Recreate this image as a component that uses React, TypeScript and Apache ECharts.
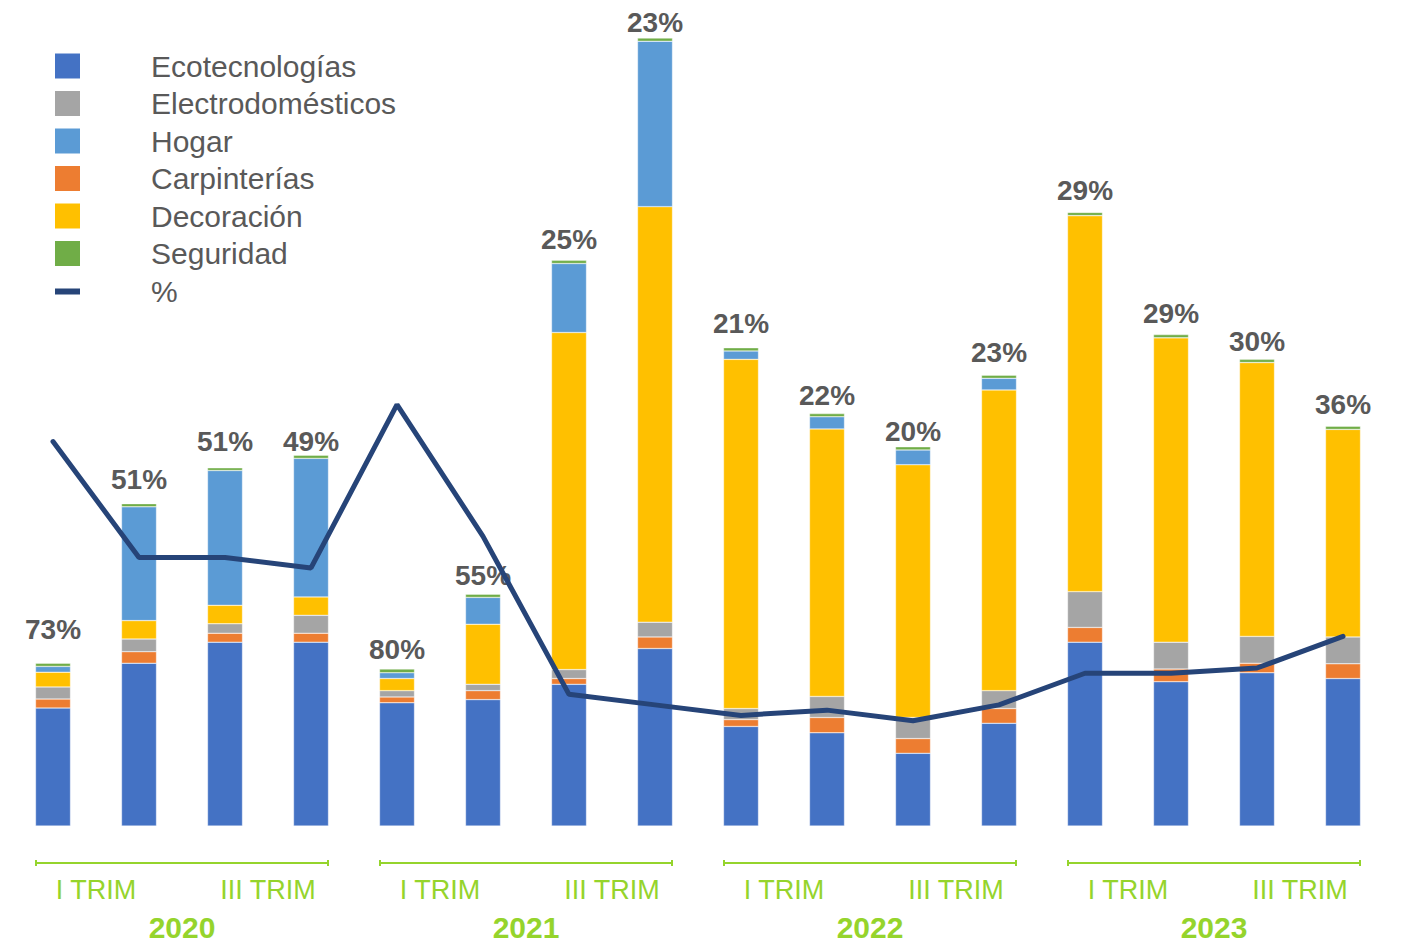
import React, { useEffect, useRef } from 'react';
import * as echarts from 'echarts';

const quarters = [
  '2020-I', '2020-II', '2020-III', '2020-IV',
  '2021-I', '2021-II', '2021-III', '2021-IV',
  '2022-I', '2022-II', '2022-III', '2022-IV',
  '2023-I', '2023-II', '2023-III', '2023-IV',
];
const quarterLabels = ['I TRIM', 'III TRIM', 'I TRIM', 'III TRIM', 'I TRIM', 'III TRIM', 'I TRIM', 'III TRIM'];
const years = ['2020', '2021', '2022', '2023'];

const ecotecnologias = [224, 309, 349, 349, 234, 240, 269, 337, 189, 177, 138, 195, 349, 274, 291, 280];
const carpinterias = [17, 22, 17, 17, 11, 17, 11, 22, 13, 29, 28, 28, 28, 24, 18, 28];
const electrodomesticos = [23, 24, 18, 34, 12, 12, 17, 28, 21, 40, 40, 34, 68, 51, 51, 51];
const decoracion = [28, 35, 35, 35, 23, 114, 640, 789, 663, 508, 480, 571, 714, 578, 520, 394];
const hogar = [11, 216, 256, 263, 11, 51, 131, 314, 16, 23, 28, 22, 0, 0, 0, 0];
const seguridad = [6, 6, 5, 6, 7, 6, 6, 6, 6, 6, 6, 6, 6, 6, 6, 6];
const porcentaje = [73, 51, 51, 49, 80, 55, 25, 23, 21, 22, 20, 23, 29, 29, 30, 36];

// label distance above each bar (layout styling, as placed in the original)
const labelDistances = [20, 10, 12, 0, 6, 5, 7, 2, 10, 4, 1, 9, 8, 7, 4, 8];

const GREEN = '#95d42c';
const GREY_TEXT = '#595959';

export default function App() {
  const ref = useRef<HTMLDivElement>(null);

  useEffect(() => {
    if (!ref.current) return;
    const chart = echarts.init(ref.current, undefined, { renderer: 'svg' });

    const barBase = (name: string, data: any[], color: string) => ({
      name,
      type: 'bar',
      stack: 'total',
      data,
      barWidth: 35,
      itemStyle: { color, borderColor: 'rgba(255,255,255,0.7)', borderWidth: 0.5 },
      emphasis: { disabled: true },
    });

    const segData = seguridad.map((v, i) => ({ value: v, label: { distance: labelDistances[i] } }));

    chart.setOption({
      animation: false,
      grid: { left: 10, right: 34, top: 36, bottom: 120, containLabel: false },
      legend: {
        orient: 'vertical',
        left: 55,
        top: 51,
        padding: 0,
        itemWidth: 25,
        itemHeight: 25,
        itemGap: 7.5,
        selectedMode: false,
        itemStyle: { borderWidth: 0 },
        textStyle: {
          fontSize: 30,
          color: GREY_TEXT,
          fontFamily: 'Liberation Sans, Arial, sans-serif',
          padding: [0, 0, 0, 66],
        },
        data: [
          { name: 'Ecotecnologías', icon: 'rect' },
          { name: 'Electrodomésticos', icon: 'rect' },
          { name: 'Hogar', icon: 'rect' },
          { name: 'Carpinterías', icon: 'rect' },
          { name: 'Decoración', icon: 'rect' },
          { name: 'Seguridad', icon: 'rect' },
          {
            name: '%',
            icon: 'path://M0,0L0.05,0L0.05,0.05L0,0.05Z M0,10L25,10L25,16L0,16Z M24.95,24.95L25,24.95L25,25L24.95,25Z',
            itemStyle: { color: '#264478' },
          },
        ],
      },
      xAxis: [
        {
          type: 'category',
          data: quarters,
          position: 'bottom',
          axisLine: { show: false },
          axisTick: { show: false },
          axisLabel: { show: false },
        },
        {
          type: 'category',
          data: quarterLabels,
          position: 'bottom',
          axisLine: { show: false },
          axisTick: { show: false },
          axisLabel: {
            interval: 0,
            margin: 50,
            fontSize: 27,
            color: GREEN,
            fontFamily: 'Liberation Sans Narrow, Arial Narrow, Liberation Sans, sans-serif',
          },
        },
        {
          type: 'category',
          data: years,
          position: 'bottom',
          axisLine: { show: false },
          axisTick: { show: false },
          axisLabel: {
            interval: 0,
            margin: 86,
            fontSize: 30,
            fontWeight: 'bold',
            color: GREEN,
            fontFamily: 'Liberation Sans, Arial, sans-serif',
          },
        },
      ],
      yAxis: [
        { type: 'value', min: 0, max: 1500, show: false, splitLine: { show: false } },
        { type: 'value', min: 0, max: 150, show: false, splitLine: { show: false } },
      ],
      series: [
        barBase('Ecotecnologías', ecotecnologias, '#4472C4'),
        barBase('Carpinterías', carpinterias, '#ED7D31'),
        barBase('Electrodomésticos', electrodomesticos, '#A5A5A5'),
        barBase('Decoración', decoracion, '#FFC000'),
        barBase('Hogar', hogar, '#5B9BD5'),
        {
          ...barBase('Seguridad', segData, '#70AD47'),
          label: {
            show: true,
            position: 'top',
            distance: 6,
            fontSize: 28,
            fontWeight: 'bold',
            color: GREY_TEXT,
            fontFamily: 'Liberation Sans, Arial, sans-serif',
            formatter: (p: any) => porcentaje[p.dataIndex] + '%',
          },
        },
        {
          name: '%',
          type: 'line',
          yAxisIndex: 1,
          data: porcentaje,
          symbol: 'none',
          z: 10,
          lineStyle: { color: '#264478', width: 5, cap: 'round' },
          itemStyle: { color: '#264478' },
          emphasis: { disabled: true },
        },
      ],
    });

    const y0 = chart.convertToPixel({ yAxisIndex: 0 }, 0) as number;
    const by = y0 + 37;
    const graphics: any[] = [];
    years.forEach((_, g) => {
      const xa = (chart.convertToPixel({ xAxisIndex: 0 }, quarters[g * 4]) as number) - 17;
      const xb = (chart.convertToPixel({ xAxisIndex: 0 }, quarters[g * 4 + 3]) as number) + 17;
      const st = { stroke: GREEN, lineWidth: 2 };
      graphics.push({ type: 'line', shape: { x1: xa, y1: by, x2: xb, y2: by }, style: st, silent: true });
      graphics.push({ type: 'line', shape: { x1: xa, y1: by - 3, x2: xa, y2: by + 3 }, style: st, silent: true });
      graphics.push({ type: 'line', shape: { x1: xb, y1: by - 3, x2: xb, y2: by + 3 }, style: st, silent: true });
    });
    chart.setOption({ graphic: graphics });

    return () => chart.dispose();
  }, []);

  return (
    <div
      ref={ref}
      style={{ position: 'absolute', left: 0, top: 0, width: 1420, height: 946, background: '#fff' }}
    />
  );
}
